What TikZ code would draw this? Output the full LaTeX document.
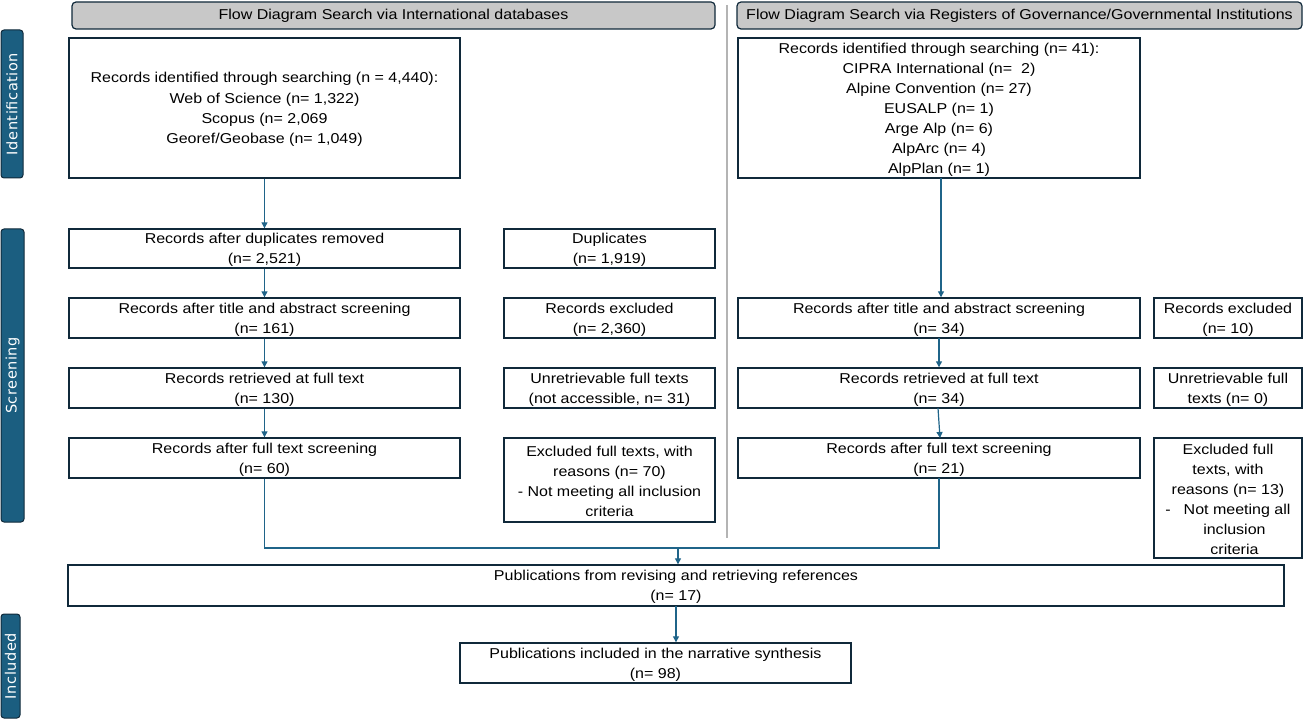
\documentclass[tikz,border=0pt]{standalone}
\usepackage{fontspec}
\setmainfont{Liberation Sans}[FakeStretch=1.12]
\newfontfamily\barfont{DejaVu Sans}
\usetikzlibrary{arrows.meta}
\definecolor{boxline}{HTML}{10293A}
\definecolor{arrowc}{HTML}{1F6489}
\definecolor{barfill}{HTML}{1B5E80}
\definecolor{headfill}{HTML}{C8C8C8}
\definecolor{sepc}{HTML}{B4B4B4}
\tikzset{
  box/.style={draw=boxline, line width=1.4pt, fill=white, inner sep=0pt, align=center,
    font=\fontsize{14.3}{20}\selectfont},
  head/.style={draw=boxline, line width=1.2pt, fill=headfill, rounded corners=4pt, inner sep=0pt,
    font=\fontsize{14.3}{18}\selectfont},
  sidebar/.style={draw=boxline, line width=1pt, fill=barfill, rounded corners=3pt, inner sep=0pt},
  bartext/.style={rotate=90, text=white, font=\barfont\fontsize{14.5}{16}\selectfont},
  arr/.style={draw=arrowc, line width=1.2pt, -{Triangle[width=6pt,length=6pt]}},
  conn/.style={draw=arrowc, line width=1.2pt},
}
\newcommand{\topstrut}{\rule{0pt}{13.6pt}}
\newcommand{\bx}[6]{% name, x1, y1, x2, y2, text
  \node[box, minimum width={#4-#2}, minimum height={#5-#3}] (#1) at ({(#2+#4)/2},{(#3+#5)/2}) {\topstrut#6};}
\begin{document}
\begin{tikzpicture}[x=1pt,y=-1pt]
\useasboundingbox (0,0) rectangle (1304,722);
% headers
\node[head, minimum width=643, minimum height=27] (h1) at (393.5,15.5) {Flow Diagram Search via International databases};
\node[head, minimum width=565, minimum height=27] (h2) at (1019.5,15.5) {Flow Diagram Search via Registers of Governance/Governmental Institutions};
% separator
\draw[sepc, line width=1.5pt] (727,5) -- (727,538);
% side bars
\node[sidebar, minimum width=22, minimum height=148] (b1) at (12,104) {};
\node[bartext] at (b1.center) {\addfontfeature{LetterSpace=4}Identification};
\node[sidebar, minimum width=23, minimum height=293] (b2) at (12.5,375.5) {};
\node[bartext] at (b2.center) {\addfontfeature{LetterSpace=4}Screening};
\node[sidebar, minimum width=19, minimum height=104] (b3) at (10.5,666) {};
\node[bartext] at (b3.center) {\addfontfeature{LetterSpace=4}Included};
% left column
\bx{l1}{69}{38}{460}{178}{Records identified through searching (n = 4,440):\\[1pt]Web of Science (n= 1,322)\\Scopus (n= 2,069\\Georef/Geobase (n= 1,049)}
\bx{l2}{69}{229}{460}{268}{Records after duplicates removed\\(n= 2,521)}
\bx{l3}{69}{298}{460}{338}{Records after title and abstract screening\\(n= 161)}
\bx{l4}{69}{368}{460}{408}{Records retrieved at full text\\(n= 130)}
\bx{l5}{69}{438}{460}{478}{Records after full text screening\\(n= 60)}
\bx{e2}{504}{229}{715}{268}{Duplicates\\(n= 1,919)}
\bx{e3}{504}{298}{715}{338}{Records excluded\\(n= 2,360)}
\bx{e4}{504}{368}{715}{408}{Unretrievable full texts\\(not accessible, n= 31)}
\bx{e5}{504}{438}{715}{522}{Excluded full texts, with\\reasons (n= 70)\\- Not meeting all inclusion\\criteria}
% right column
\bx{r1}{738}{38}{1140}{178}{Records identified through searching (n= 41):\\CIPRA International (n=~~2)\\Alpine Convention (n= 27)\\EUSALP (n= 1)\\Arge Alp (n= 6)\\AlpArc (n= 4)\\AlpPlan (n= 1)}
\bx{r3}{738}{298}{1140}{338}{Records after title and abstract screening\\(n= 34)}
\bx{r4}{738}{368}{1140}{408}{Records retrieved at full text\\(n= 34)}
\bx{r5}{738}{438}{1140}{478}{Records after full text screening\\(n= 21)}
\bx{s3}{1154}{298}{1302}{338}{Records excluded\\(n= 10)}
\bx{s4}{1154}{368}{1302}{408}{Unretrievable full\\texts (n= 0)}
\bx{s5}{1154}{438}{1302}{558}{Excluded full\\texts, with\\reasons (n= 13)\\-\hspace{0.9em}Not meeting all\\\hspace{0.9em}inclusion\\\hspace{0.9em}criteria}
% bottom
\bx{p1}{68}{565}{1284}{606}{Publications from revising and retrieving references\\(n= 17)}
\bx{p2}{460}{643}{851}{683}{Publications included in the narrative synthesis\\(n= 98)}
% connectors
\draw[arr] (l1.south) -- (l2.north);
\draw[arr] (l2.south) -- (l3.north);
\draw[arr] (l3.south) -- (l4.north);
\draw[arr] (l4.south) -- (l5.north);
\draw[arr] (941,178) coordinate (r1s) -- (r1s|-r3.north);
\draw[arr] (939,338) coordinate (r3s) -- (r3s|-r4.north);
\draw[arr] (938,408) coordinate (r4s) -- (940,438) coordinate (r5n);
\coordinate (m) at (678,548);
\draw[conn] (l5.south) |- (m) -| (939,478) coordinate (r5s);
\draw[arr] (m) -- (m|-p1.north);
\draw[arr] (676,606) coordinate (p1s) -- (p1s|-p2.north);
\end{tikzpicture}
\end{document}
